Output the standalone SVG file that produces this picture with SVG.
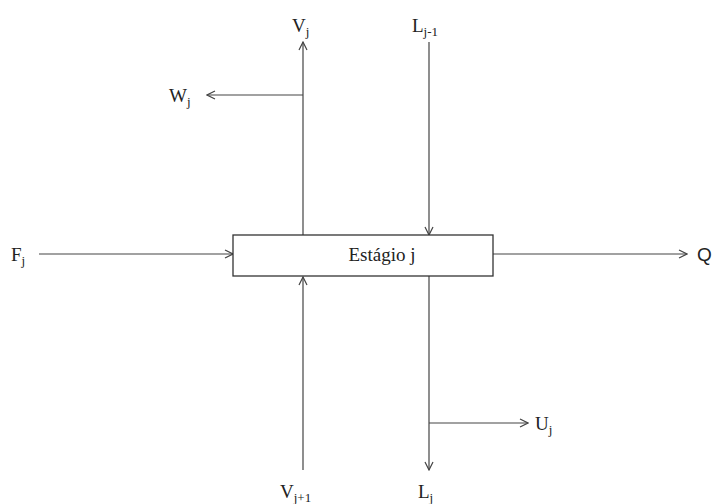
<svg xmlns="http://www.w3.org/2000/svg" width="717" height="504" viewBox="0 0 717 504">
<style>
.t{font-family:"Liberation Serif","Times New Roman",serif;font-size:19px;fill:#222}
.s{font-size:13px;fill:#222}
.c line{stroke:#444;stroke-width:1.2;fill:none}
.b{fill:#fff;stroke:#333;stroke-width:1.3}
</style>
<defs>
<marker id="ah" viewBox="0 0 10 10" refX="9" refY="5" markerWidth="10" markerHeight="10" markerUnits="userSpaceOnUse" orient="auto">
<path d="M1,1 L9,5 L1,9" fill="none" stroke="#444" stroke-width="1.2"/>
</marker>
</defs>
<g class="c" id="connectors">
<line x1="303" y1="235" x2="303" y2="42" marker-end="url(#ah)"/>
<line x1="303" y1="95" x2="207" y2="95" marker-end="url(#ah)"/>
<line x1="429" y1="42" x2="429" y2="235" marker-end="url(#ah)"/>
<line x1="39" y1="254" x2="233" y2="254" marker-end="url(#ah)"/>
<line x1="493" y1="254" x2="687" y2="254" marker-end="url(#ah)"/>
<line x1="303" y1="470" x2="303" y2="277" marker-end="url(#ah)"/>
<line x1="429" y1="276" x2="429" y2="470" marker-end="url(#ah)"/>
<line x1="429" y1="423" x2="528" y2="423" marker-end="url(#ah)"/>
</g>
<g id="stage">
<rect class="b" x="233" y="235" width="260" height="41"/>
<text class="t" x="382" y="261" text-anchor="middle">Estágio j</text>
</g>
<g id="Vj"><text class="t" x="292" y="32">V<tspan class="s" dy="4">j</tspan></text></g>
<g id="Lj-1"><text class="t" x="412" y="32">L<tspan class="s" dy="4">j-1</tspan></text></g>
<g id="Wj"><text class="t" x="169" y="102">W<tspan class="s" dy="4">j</tspan></text></g>
<g id="Fj"><text class="t" x="11" y="261">F<tspan class="s" dy="4">j</tspan></text></g>
<g id="Q"><text class="t" x="697" y="261" style="font-family:'Liberation Sans',Arial,sans-serif">Q</text></g>
<g id="Uj"><text class="t" x="535" y="430">U<tspan class="s" dy="4">j</tspan></text></g>
<g id="Vj+1"><text class="t" x="280" y="498">V<tspan class="s" dy="4">j+1</tspan></text></g>
<g id="Lj"><text class="t" x="418" y="498">L<tspan class="s" dy="4">j</tspan></text></g>
</svg>
